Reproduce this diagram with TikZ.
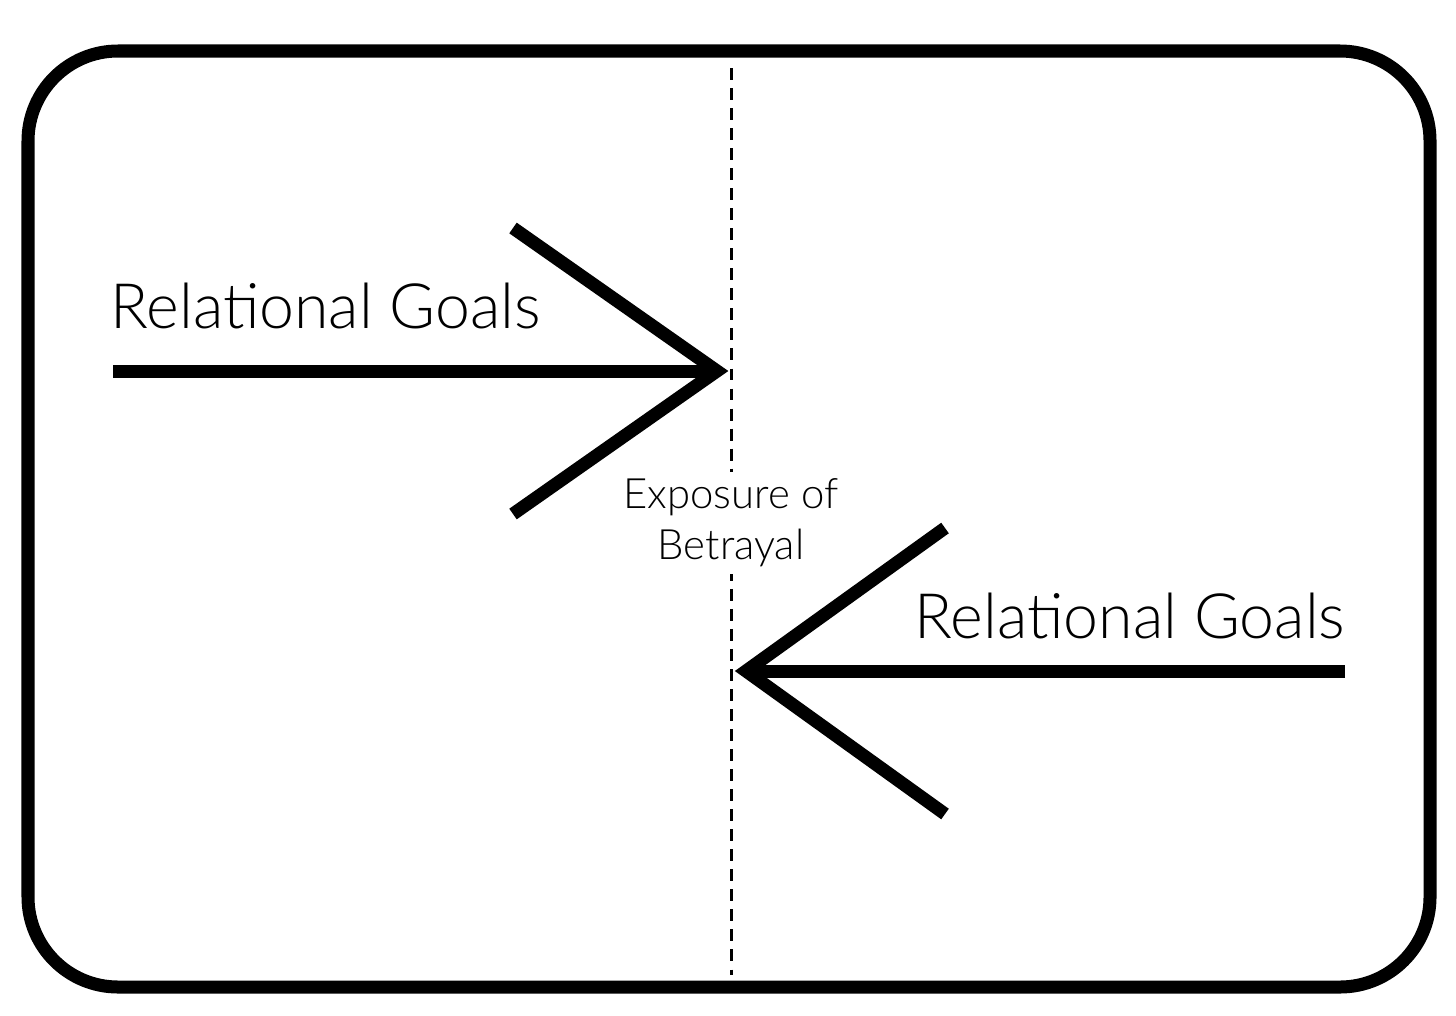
\documentclass[tikz,border=0pt]{standalone}
\usepackage{fontspec}
\setmainfont{Lato}[UprightFont={* Light}]
\begin{document}
\begin{tikzpicture}
    \useasboundingbox (0,0) rectangle (14.56,10.15);

    % Draw the frame
    \draw[line width=3.7pt, rounded corners=0.9cm] (0.28,0.28) rectangle (14.30,9.64);

    % Draw the divide
    \coordinate (divtop) at (7.31,9.47);
    \coordinate (divbot) at (7.31,0.40);
    \draw[dash pattern=on 3.4pt off 2.3pt, line width=0.85pt] (divtop) -- (divbot);

    % Label the divide
    \node[fill=white, align=center, font=\fontsize{11.9}{14.5}\selectfont, inner sep=2pt] (expo) at (7.31,4.92) {Exposure of\\Betrayal};

    % Left arrow
    \coordinate (ltip) at (7.17,6.44);
    \draw[line width=3.7pt] (1.13,6.44) -- (ltip);
    \draw[line width=3.7pt, miter limit=4] (5.13,7.87) -- (ltip) -- (5.13,5.01);
    \node[anchor=base west, font=\fontsize{17.8}{22}\selectfont, inner sep=0pt] (lgoals) at (1.10,6.87) {Relational Goals};

    % Right arrow
    \coordinate (rtip) at (7.46,3.44);
    \draw[line width=3.7pt] (13.45,3.44) -- (rtip);
    \draw[line width=3.7pt, miter limit=4] (9.45,4.87) -- (rtip) -- (9.45,2.01);
    \node[anchor=base east, font=\fontsize{17.8}{22}\selectfont, inner sep=0pt] (rgoals) at (13.46,3.77) {Relational Goals};
\end{tikzpicture}
\end{document}
